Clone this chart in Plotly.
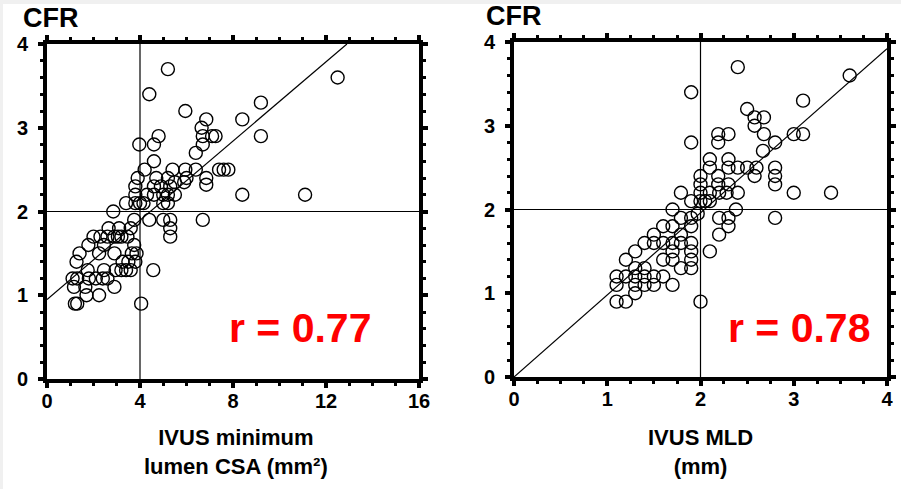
import plotly.graph_objects as go

# ---------------- data ----------------
csa_x = [5.2, 4.4, 5.95, 6.85, 6.65, 8.4, 9.2, 12.5, 9.2, 6.7, 7.1, 7.25, 6.7, 3.97, 4.6, 4.8, 6.4, 4.6,
         7.4, 7.6, 7.8, 6.85, 6.85, 8.4, 11.1,
         4.2, 5.4, 5.95, 6.4,
         3.9, 4.7, 5.2, 6.0, 5.9,
         3.8, 4.6, 5.3, 5.5, 4.9,
         3.8, 4.3, 4.6, 5.0, 5.2, 5.5,
         3.4, 3.8, 4.0, 4.15, 5.0, 5.2,
         2.85,
         3.75, 4.4, 5.0, 5.3, 6.7,
         2.65, 3.1, 3.6, 5.3,
         2.0, 2.3, 2.6, 2.9, 3.05, 3.2, 3.46, 5.3,
         1.78, 2.45, 3.75,
         1.4, 2.24, 2.9, 3.65, 3.85,
         1.27, 3.25, 3.5, 3.8,
         1.75, 2.45, 2.95, 3.2, 3.4, 3.6, 4.57,
         1.1, 1.3, 1.8, 2.1, 2.4, 2.6,
         1.16, 1.65, 2.9,
         1.7, 2.24,
         1.2, 1.3, 4.05]
csa_cfr = [3.7, 3.4, 3.2, 3.1, 3.0, 3.1, 3.3, 3.6, 2.9, 2.9, 2.9, 2.9, 2.8, 2.8, 2.8, 2.9, 2.7, 2.6,
           2.5, 2.5, 2.5, 2.4, 2.32, 2.2, 2.2,
           2.5, 2.5, 2.5, 2.5,
           2.4, 2.4, 2.4, 2.4, 2.35,
           2.3, 2.3, 2.3, 2.35, 2.3,
           2.2, 2.2, 2.2, 2.2, 2.2, 2.2,
           2.1, 2.1, 2.1, 2.1, 2.1, 2.1,
           2.0,
           1.9, 1.9, 1.9, 1.9, 1.9,
           1.8, 1.8, 1.8, 1.8,
           1.7, 1.7, 1.7, 1.7, 1.7, 1.7, 1.7, 1.7,
           1.6, 1.6, 1.6,
           1.5, 1.5, 1.5, 1.5, 1.5,
           1.4, 1.4, 1.4, 1.4,
           1.3, 1.3, 1.3, 1.3, 1.3, 1.3, 1.3,
           1.2, 1.2, 1.2, 1.2, 1.2, 1.2,
           1.1, 1.1, 1.1,
           1.0, 1.0,
           0.9, 0.9, 0.9]

mld_x = [2.4, 1.9, 3.6, 3.1, 2.5, 2.58, 2.68, 2.58, 2.68, 3.0, 3.1, 2.8, 1.9, 2.19, 2.3, 2.19, 2.67, 2.1, 2.3,
         2.1, 2.3, 2.4, 2.5, 2.6, 2.8,
         2.0, 2.19, 2.58, 2.8,
         2.0, 2.19, 2.3, 2.8,
         1.79, 2.0, 2.1, 2.2, 2.4, 3.0, 3.4, 2.28,
         1.9, 2.0, 2.05, 2.1,
         1.7, 1.97, 2.38,
         1.79, 1.9, 2.2, 2.3, 2.8,
         1.6, 1.7, 1.9, 2.3,
         1.5, 1.79, 2.2,
         1.4, 1.5, 1.6, 1.7, 1.79, 1.9,
         1.3, 1.7, 1.9, 2.1,
         1.2, 1.6, 1.7, 1.9,
         1.3, 1.4, 1.79, 1.9,
         1.1, 1.2, 1.3, 1.4, 1.5, 1.6,
         1.1, 1.3, 1.4, 1.5, 1.7,
         1.3,
         1.1, 1.2, 2.0]
mld_cfr = [3.7, 3.4, 3.6, 3.3, 3.2, 3.1, 3.1, 3.0, 2.9, 2.9, 2.9, 2.8, 2.8, 2.9, 2.9, 2.8, 2.7, 2.6, 2.6,
           2.5, 2.5, 2.5, 2.5, 2.5, 2.5,
           2.4, 2.4, 2.4, 2.4,
           2.3, 2.3, 2.3, 2.3,
           2.2, 2.2, 2.2, 2.2, 2.2, 2.2, 2.2, 2.2,
           2.1, 2.1, 2.1, 2.1,
           2.0, 1.95, 2.0,
           1.9, 1.9, 1.9, 1.9, 1.9,
           1.8, 1.8, 1.8, 1.8,
           1.7, 1.7, 1.7,
           1.6, 1.6, 1.6, 1.6, 1.6, 1.6,
           1.5, 1.5, 1.5, 1.5,
           1.4, 1.4, 1.4, 1.4,
           1.3, 1.3, 1.3, 1.3,
           1.2, 1.2, 1.2, 1.2, 1.2, 1.2,
           1.1, 1.1, 1.1, 1.1, 1.1,
           1.0,
           0.9, 0.9, 0.9]

# regression lines (end points)
csa_fit_x = [0, 12.9]
csa_fit_y = [0.95, 4.0]
mld_fit_x = [0, 4.0]
mld_fit_y = [0.0, 3.92]

# cut-off reference lines
csa_cut = 4
mld_cut = 2
cfr_cut = 2

x1_ticks = [0, 4, 8, 12, 16]
x2_ticks = [0, 1, 2, 3, 4]
y_ticks = [0, 1, 2, 3, 4]

r_left = "r = 0.77"
r_right = "r = 0.78"

# ---------------- figure ----------------
fig = go.Figure()

marker = dict(symbol="circle-open", size=13, color="black", line=dict(width=1.4, color="black"))
thin = dict(color="black", width=1.2)

# left panel
fig.add_trace(go.Scatter(x=[csa_cut, csa_cut], y=[0, 4], mode="lines", line=thin, xaxis="x", yaxis="y"))
fig.add_trace(go.Scatter(x=[0, 16], y=[cfr_cut, cfr_cut], mode="lines", line=thin, xaxis="x", yaxis="y"))
fig.add_trace(go.Scatter(x=csa_fit_x, y=csa_fit_y, mode="lines", line=thin, xaxis="x", yaxis="y"))
fig.add_trace(go.Scatter(x=csa_x, y=csa_cfr, mode="markers", marker=marker, xaxis="x", yaxis="y"))

# right panel
fig.add_trace(go.Scatter(x=[mld_cut, mld_cut], y=[0, 4], mode="lines", line=thin, xaxis="x2", yaxis="y2"))
fig.add_trace(go.Scatter(x=[0, 4], y=[cfr_cut, cfr_cut], mode="lines", line=thin, xaxis="x2", yaxis="y2"))
fig.add_trace(go.Scatter(x=mld_fit_x, y=mld_fit_y, mode="lines", line=thin, xaxis="x2", yaxis="y2"))
fig.add_trace(go.Scatter(x=mld_x, y=mld_cfr, mode="markers", marker=marker, xaxis="x2", yaxis="y2"))

tickfont = dict(family="Liberation Sans, Arial", size=20, color="black", weight="bold")

def axis(rng, ticks, minor_dtick, domain, anchor):
    return dict(
        range=rng, domain=domain, anchor=anchor, automargin=False,
        tickmode="array", tickvals=ticks, ticktext=[str(t) for t in ticks],
        showline=True, linewidth=4, linecolor="black", mirror="allticks",
        ticks="outside", ticklen=5, tickwidth=3.5, tickcolor="black",
        minor=dict(dtick=minor_dtick, ticks="outside", ticklen=3, tickwidth=3, tickcolor="black", showgrid=False),
        showgrid=False, zeroline=False, tickfont=tickfont, fixedrange=True,
    )

W, H = 901, 489
def px_x(p):
    return p / W
def px_y(p):
    return 1 - p / H

fig.update_layout(
    width=W, height=H,
    margin=dict(l=0, r=0, t=0, b=0, pad=0),
    paper_bgcolor="white", plot_bgcolor="white",
    showlegend=False,
    xaxis=axis([0, 16], x1_ticks, 1, [px_x(47), px_x(419)], "y"),
    yaxis=axis([0, 4], y_ticks, 0.2, [px_y(379), px_y(44)], "x"),
    xaxis2=axis([0, 4], x2_ticks, 0.25, [px_x(514), px_x(887)], "y2"),
    yaxis2=axis([0, 4], y_ticks, 0.2, [px_y(377), px_y(42)], "x2"),
)
fig.update_xaxes(ticklabelstandoff=-4)
fig.update_yaxes(ticklabelstandoff=6)

title_font = dict(family="Liberation Sans, Arial", size=22, color="black", weight="bold")
cfr_font = dict(family="Liberation Sans, Arial", size=27, color="black", weight="bold")
r_font = dict(family="Liberation Sans, Arial", size=41, color="#ff0000", weight="bold")

annotations = [
    dict(text="CFR", x=px_x(21), y=px_y(18), xanchor="left", yanchor="middle", font=cfr_font),
    dict(text="CFR", x=px_x(484), y=px_y(16), xanchor="left", yanchor="middle", font=cfr_font),
    dict(text="IVUS minimum<br>lumen CSA (mm²)", x=px_x(236), y=px_y(452), xanchor="center", yanchor="middle",
         font=title_font),
    dict(text="IVUS MLD<br>(mm)", x=px_x(700), y=px_y(452), xanchor="center", yanchor="middle", font=title_font),
    dict(text=r_left, x=px_x(300), y=px_y(328), xanchor="center", yanchor="middle", font=r_font),
    dict(text=r_right, x=px_x(799), y=px_y(328), xanchor="center", yanchor="middle", font=r_font),
]
for a in annotations:
    a.update(xref="paper", yref="paper", showarrow=False)
fig.update_layout(annotations=annotations)

# light grey slide border at top and left
fig.update_layout(shapes=[
    dict(type="rect", xref="paper", yref="paper", x0=0, x1=1, y0=px_y(4), y1=1,
         fillcolor="#f0f0f0", line=dict(width=0), layer="below"),
    dict(type="rect", xref="paper", yref="paper", x0=0, x1=px_x(3), y0=0, y1=1,
         fillcolor="#f0f0f0", line=dict(width=0), layer="below"),
])

fig.write_html("out.html")
